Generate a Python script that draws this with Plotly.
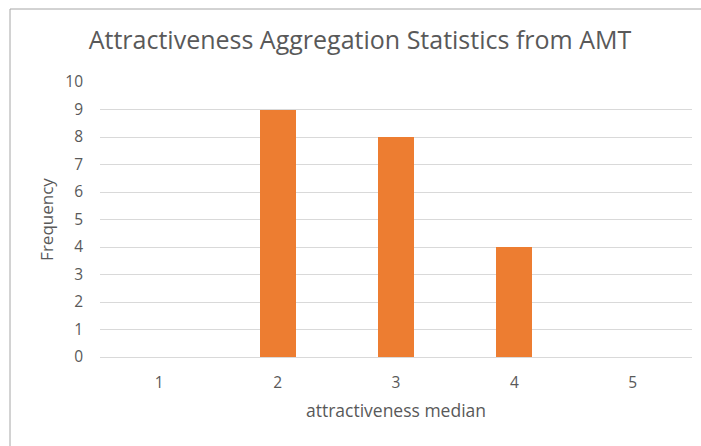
import plotly.graph_objects as go

# Frequency of median attractiveness ratings
categories = ["1", "2", "3", "4", "5"]
frequency = [0, 9, 8, 4, 0]

title_text = "Attractiveness Aggregation Statistics from AMT"
x_title = "attractiveness median"
y_title = "Frequency"

W, H = 701, 446
ML, MR, MT, MB = 100, 9, 82, 89
pw, ph = W - ML - MR, H - MT - MB

text_color = "#595959"
grid_color = "#D9D9D9"
font_family = "Open Sans, Noto Sans, sans-serif"

fig = go.Figure(
    go.Bar(
        x=categories,
        y=frequency,
        marker=dict(color="#ED7D31", line=dict(width=0)),
        width=0.305,
    )
)

# chart-area frame (left and top edges)
frame_x = (10 - ML) / pw
frame_y = (H - MB - 9) / ph
fig.add_shape(type="line", xref="paper", yref="paper",
              x0=frame_x, x1=frame_x, y0=frame_y, y1=-2,
              line=dict(color="#A6A6A6", width=1))
fig.add_shape(type="line", xref="paper", yref="paper",
              x0=frame_x, x1=2, y0=frame_y, y1=frame_y,
              line=dict(color="#A6A6A6", width=1))

fig.update_layout(
    width=W, height=H,
    margin=dict(l=ML, r=MR, t=MT, b=MB),
    paper_bgcolor="white",
    plot_bgcolor="white",
    showlegend=False,
    bargap=0,
    font=dict(family=font_family, color=text_color, size=15),
    title=dict(text=title_text, x=360 / W, xanchor="center",
               y=1 - 40 / H, yanchor="middle",
               font=dict(size=25, color=text_color, family=font_family)),
    xaxis=dict(
        type="category",
        showgrid=False,
        showline=False,
        ticks="",
        ticklabelstandoff=14,
        tickfont=dict(size=15.5, color=text_color),
        title=dict(text=x_title, font=dict(size=17.5, color=text_color), standoff=13),
    ),
    yaxis=dict(
        range=[0, 10],
        dtick=1,
        showgrid=True,
        gridcolor=grid_color,
        gridwidth=1,
        zeroline=True,
        zerolinecolor=grid_color,
        zerolinewidth=1,
        showline=False,
        ticks="",
        ticklabelstandoff=16,
        tickfont=dict(size=15.5, color=text_color),
        title=dict(text=y_title, font=dict(size=17, color=text_color), standoff=7),
    ),
)

fig.write_html("out.html")
